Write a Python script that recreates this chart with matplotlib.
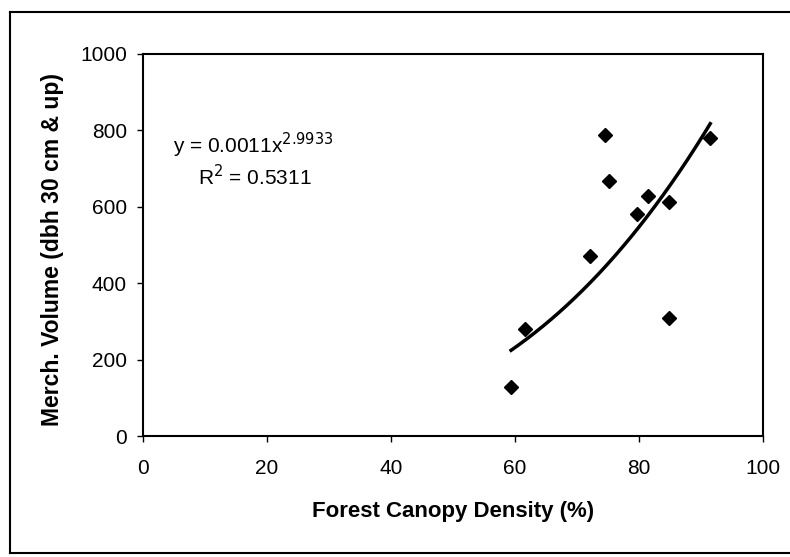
import numpy as np
import matplotlib
matplotlib.use("Agg")
import matplotlib.pyplot as plt
from matplotlib.lines import Line2D

plt.rcParams['font.family'] = ['Liberation Sans', 'DejaVu Sans']

# datos
densidad = [59.4, 61.7, 72.1, 74.5, 75.2, 79.7, 81.4, 84.9, 84.9, 91.5]
volumen = [128, 280, 470, 788, 668, 580, 628, 612, 310, 780]

# linea de tendencia potencial (segun la ecuacion del grafico)
coef_a = 0.0011
coef_b = 2.9933
r2 = 0.5311

x_ticks = [0, 20, 40, 60, 80, 100]
y_ticks = [0, 200, 400, 600, 800, 1000]

fig = plt.figure(figsize=(7.9, 5.57), dpi=100)
ax = fig.add_axes([0.1804, 0.2172, 0.7854, 0.6859])

x_linea = np.linspace(min(densidad), max(densidad), 200)
y_linea = coef_a * x_linea ** coef_b
ax.plot(x_linea, y_linea, color='black', lw=2.5, zorder=2)
ax.plot(densidad, volumen, linestyle='none', marker='D', ms=7.3,
        color='black', zorder=3)

ax.set_xlim(0, 100)
ax.set_ylim(0, 1000)
ax.set_xticks(x_ticks)
ax.set_yticks(y_ticks)
ax.tick_params(direction='out', length=4.3, width=1, labelsize=15)
ax.tick_params(axis='x', pad=12)
ax.tick_params(axis='y', pad=7)
for s in ax.spines.values():
    s.set_linewidth(1.5)

ax.set_xlabel('Forest Canopy Density (%)', fontsize=16, fontweight='bold',
              va='center')
ax.xaxis.set_label_coords(0.5, -0.1976)
ax.set_ylabel('Merch. Volume (dbh 30 cm & up)', fontsize=16.5,
              fontweight='bold', va='center')
ax.yaxis.set_label_coords(-0.1458, 0.487)

ax.text(4.9, 740, r'y = 0.0011x$^{2.9933}$', fontsize=15, va='baseline',
        ha='left')
ax.text(8.9, 657, r'R$^{2}$ = ' + f'{r2:.4f}', fontsize=15, va='baseline',
        ha='left')

# marco exterior
for xs, ys in [([0.013, 0.013], [0.007, 0.978]),
               ([0.013, 0.999], [0.978, 0.978]),
               ([0.013, 0.999], [0.007, 0.007])]:
    fig.add_artist(Line2D(xs, ys, transform=fig.transFigure,
                          color='black', lw=1.5))

fig.savefig('out.png', dpi=100)
